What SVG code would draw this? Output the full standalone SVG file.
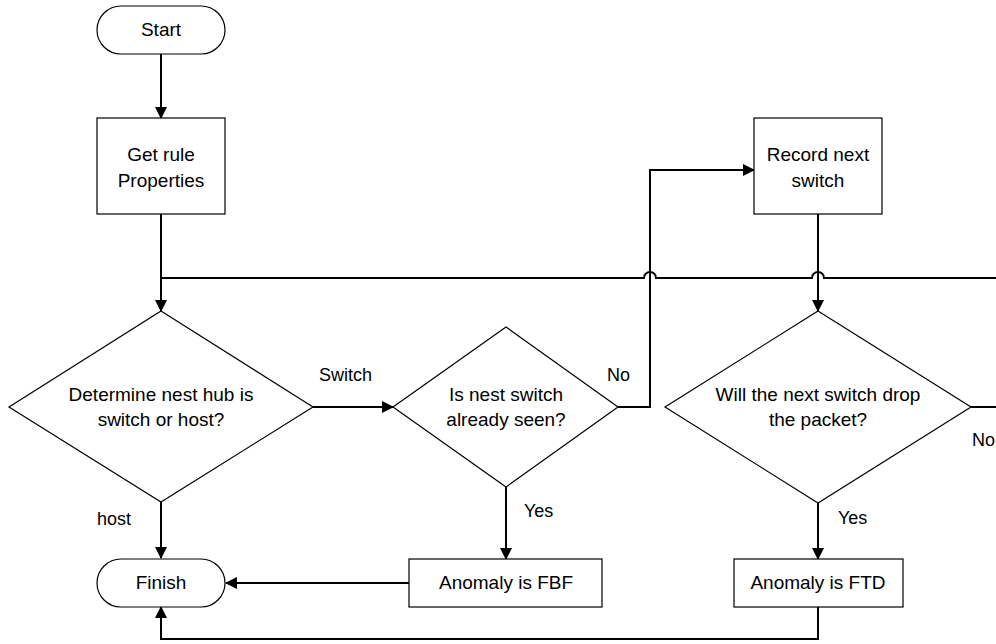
<svg xmlns="http://www.w3.org/2000/svg" width="996" height="644" viewBox="0 0 996 644">
<style>
.shape{fill:#fff;stroke:#000;stroke-width:1.2}
.conn{fill:none;stroke:#000;stroke-width:2}
text{font-family:"Liberation Sans",Arial,sans-serif;font-size:19px;fill:#000}
.lbl{font-size:18px}
.c{text-anchor:middle}
</style>
<defs>
<marker id="arr" markerWidth="12" markerHeight="12" refX="11" refY="6" orient="auto" markerUnits="userSpaceOnUse">
<path d="M0,0 L12,6 L0,12 Z" fill="#000"/>
</marker>
</defs>
<rect width="996" height="644" fill="#fff"/>
<g id="connectors">
<path class="conn" d="M161,54 V118" marker-end="url(#arr)"/>
<path class="conn" d="M161,214 V311" marker-end="url(#arr)"/>
<path class="conn" d="M996,278 H824 A6,6 0 0 0 812,278 H656 A6,6 0 0 0 644,278 H161"/>
<path class="conn" d="M313,407 H393" marker-end="url(#arr)"/>
<path class="conn" d="M618,407 H650 V170 H754" marker-end="url(#arr)"/>
<path class="conn" d="M818,214 V311" marker-end="url(#arr)"/>
<path class="conn" d="M971,407 H996"/>
<path class="conn" d="M161,502 V558" marker-end="url(#arr)"/>
<path class="conn" d="M506,487 V559" marker-end="url(#arr)"/>
<path class="conn" d="M818,503 V559" marker-end="url(#arr)"/>
<path class="conn" d="M409,583 H226" marker-end="url(#arr)"/>
<path class="conn" d="M818,607 V639 H161 V607" marker-end="url(#arr)"/>
</g>
<g id="labels">
<text class="lbl" x="319" y="381">Switch</text>
<text class="lbl" x="97" y="525">host</text>
<text class="lbl" x="607" y="381">No</text>
<text class="lbl" x="524" y="517">Yes</text>
<text class="lbl" x="995" y="446" text-anchor="end">No</text>
<text class="lbl" x="838" y="524">Yes</text>
</g>
<g id="start">
<rect class="shape" x="97" y="6" width="128" height="48" rx="24" ry="24"/>
<text class="c" x="161" y="36">Start</text>
</g>
<g id="get-rule">
<rect class="shape" x="97" y="118" width="128" height="96"/>
<text class="c" x="161" y="161">Get rule</text>
<text class="c" x="161" y="187">Properties</text>
</g>
<g id="determine">
<polygon class="shape" points="161,311 313,407 161,502 9,407"/>
<text class="c" x="161" y="401">Determine nest hub is</text>
<text class="c" x="161" y="426">switch or host?</text>
</g>
<g id="seen">
<polygon class="shape" points="506,327 618,407 506,487 393,407"/>
<text class="c" x="506" y="401">Is nest switch</text>
<text class="c" x="506" y="426">already seen?</text>
</g>
<g id="record">
<rect class="shape" x="754" y="118" width="128" height="96"/>
<text class="c" x="818" y="161">Record next</text>
<text class="c" x="818" y="187">switch</text>
</g>
<g id="drop">
<polygon class="shape" points="818,311 971,407 818,503 665,407"/>
<text class="c" x="818" y="401">Will the next switch drop</text>
<text class="c" x="818" y="426">the packet?</text>
</g>
<g id="finish">
<rect class="shape" x="97" y="559" width="128" height="48" rx="24" ry="24"/>
<text class="c" x="161" y="589">Finish</text>
</g>
<g id="fbf">
<rect class="shape" x="409" y="559" width="193" height="48"/>
<text class="c" x="506" y="589">Anomaly is FBF</text>
</g>
<g id="ftd">
<rect class="shape" x="734" y="559" width="169" height="48"/>
<text class="c" x="818" y="589">Anomaly is FTD</text>
</g>
</svg>
